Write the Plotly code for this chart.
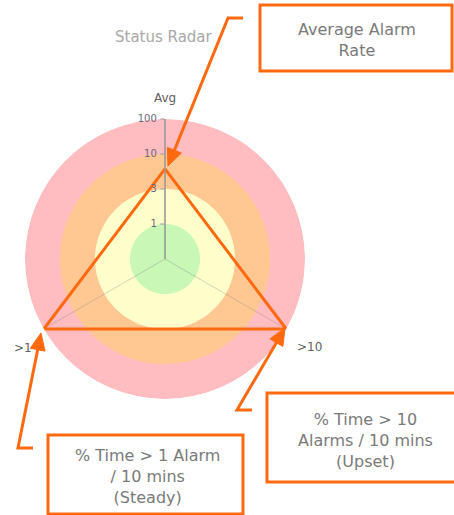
import numpy as np
import plotly.graph_objects as go

W, H = 454, 515

# Radar axes and readings
axes = ["Avg", ">1", ">10"]
axis_theta = [0, 120, 240]
readings = [6, 100, 100]

# Radial scale: tick labels and the band colours between them
scale_ticks = [1, 3, 10, 100]
scale_labels = ["1", "3", "10", "100"]
band_colors = ["#c8f7b6", "#ffffcc", "#ffc892", "#ffbcc1"]

ORANGE = "#ff6a10"
TEXT_GREY = "#7a7a7a"


def to_band(v):
    """Piecewise-log position of a value on the 1/3/10/100 banded scale."""
    edges = [0] + scale_ticks
    for i in range(1, len(edges)):
        lo, hi = edges[i - 1], edges[i]
        if v <= hi:
            if lo == 0:
                return (i - 1) + v / hi
            return (i - 1) + np.log(v / lo) / np.log(hi / lo)
    return float(len(scale_ticks))


def px(x, y):
    return x / W, 1 - y / H


fig = go.Figure()
r_max = len(scale_ticks)

# Concentric status bands, outermost first
ring_theta = np.linspace(0, 360, 181)
for i in range(len(band_colors), 0, -1):
    fig.add_trace(go.Scatterpolar(
        r=[i] * len(ring_theta), theta=ring_theta, mode="lines",
        line=dict(width=0, color=band_colors[i - 1]),
        fill="toself", fillcolor=band_colors[i - 1],
        hoverinfo="skip", showlegend=False))

# Faint spokes along each radar axis
for t in axis_theta:
    fig.add_trace(go.Scatterpolar(
        r=[0, r_max], theta=[t, t], mode="lines",
        line=dict(color="rgba(130,130,130,0.35)", width=1),
        hoverinfo="skip", showlegend=False))

# Reading triangle
r_vals = [to_band(v) for v in readings]
fig.add_trace(go.Scatterpolar(
    r=r_vals + r_vals[:1], theta=axis_theta + axis_theta[:1],
    mode="lines", line=dict(color=ORANGE, width=3),
    showlegend=False, hoverinfo="skip"))

cx, cy, R = 165, 259, 140
x0, yb = px(cx - R, cy + R)
x1, yt = px(cx + R, cy - R)

fig.update_layout(
    width=W, height=H, margin=dict(l=0, r=0, t=0, b=0),
    paper_bgcolor="white", plot_bgcolor="white",
    showlegend=False,
    polar=dict(
        domain=dict(x=[x0, x1], y=[yb, yt]),
        bgcolor="rgba(0,0,0,0)",
        radialaxis=dict(
            range=[0, r_max],
            tickvals=list(range(1, r_max + 1)),
            ticktext=scale_labels,
            angle=90, tickangle=90, side="counterclockwise",
            showgrid=False, showline=True, linecolor="#9a9a9a", linewidth=1.5,
            ticks="outside", ticklen=4, tickcolor="#9a9a9a",
            tickfont=dict(family="DejaVu Sans", size=10, color="#6a6a78"),
            layer="above traces",
        ),
        angularaxis=dict(
            rotation=90, direction="counterclockwise",
            tickvals=axis_theta, ticktext=[""] * 3,
            showline=False, showgrid=False, ticks="",
        ),
    ),
)

annotations = []
shapes = []


def label(x, y, text, size, color):
    ax_, ay_ = px(x, y)
    annotations.append(dict(x=ax_, y=ay_, xref="paper", yref="paper", text=text,
                            xanchor="center", yanchor="middle", align="center",
                            showarrow=False,
                            font=dict(family="DejaVu Sans", size=size, color=color)))


# Title
label(164, 37, "Status Radar", 15, "#a8a8a8")

# Axis labels
label_pos = [(165, 98), (23, 348), (309, 347)]
for name, (lx, ly) in zip(axes, label_pos):
    label(lx, ly, name, 12, "#606060")

# Callout boxes: (left, top, right, bottom), text, text centre
callouts = [
    ((260, 5, 452, 71), "Average Alarm<br>Rate", (357, 40)),
    ((48, 435, 243, 514), "% Time &gt; 1 Alarm<br>/ 10 mins<br>(Steady)", (147, 476)),
    ((267, 393, 458, 482), "% Time &gt; 10<br>Alarms / 10 mins<br>(Upset)", (365, 440)),
]
for (l, t, r, b), text, (mx, my) in callouts:
    xa, ya = px(l, t)
    xb, yb2 = px(r, b)
    shapes.append(dict(type="rect", xref="paper", yref="paper", x0=xa, x1=xb, y0=yb2, y1=ya,
                       line=dict(color=ORANGE, width=3), fillcolor="white", layer="above"))
    label(mx, my, text, 16, TEXT_GREY)

# Leader arrows: horizontal stub start, elbow, arrow tip
leaders = [
    ((243, 18), (228, 18), (168, 166)),
    ((33, 448), (18, 448), (41, 333)),
    ((252, 410), (237, 410), (285, 328)),
]
head_len, head_w = 17, 15
for (sx, sy), (ex, ey), (tx_, ty_) in leaders:
    d = np.array([tx_ - ex, ty_ - ey], dtype=float)
    d /= np.linalg.norm(d)
    n = np.array([-d[1], d[0]])
    base = np.array([tx_, ty_]) - d * head_len
    p1 = base + n * head_w / 2
    p2 = base - n * head_w / 2
    stop = base + d * 2
    pts = [(sx, sy), (ex, ey), tuple(stop)]
    path = "M " + " L ".join("%.4f,%.4f" % px(x, y) for x, y in pts)
    shapes.append(dict(type="path", xref="paper", yref="paper", path=path,
                       line=dict(color=ORANGE, width=3), layer="above"))
    tri = [(tx_, ty_), tuple(p1), tuple(p2)]
    tpath = "M " + " L ".join("%.4f,%.4f" % px(x, y) for x, y in tri) + " Z"
    shapes.append(dict(type="path", xref="paper", yref="paper", path=tpath,
                       line=dict(color=ORANGE, width=1), fillcolor=ORANGE, layer="above"))

fig.update_layout(annotations=annotations, shapes=shapes)
fig.write_html("out.html")
